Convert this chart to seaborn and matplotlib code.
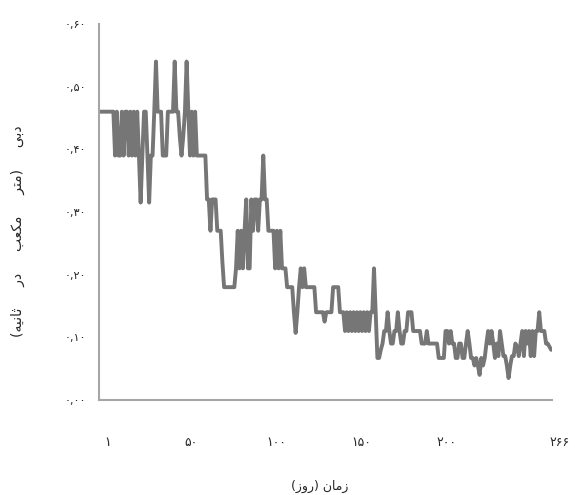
import numpy as np
import pandas as pd
import matplotlib
matplotlib.use("Agg")
import matplotlib.pyplot as plt
import matplotlib.transforms as mtransforms
import seaborn as sns

# daily discharge (m3/s)
discharge = [
    0.46, 0.46, 0.46, 0.46, 0.46, 0.46, 0.46, 0.46, 0.46,
    0.39, 0.46, 0.39, 0.39, 0.46, 0.39, 0.46, 0.46, 0.39, 0.46, 0.39, 0.46, 0.39, 0.46, 0.39,
    0.315, 0.39, 0.46, 0.46, 0.39, 0.315, 0.39, 0.39, 0.46, 0.54,
    0.46, 0.46, 0.46, 0.39, 0.39, 0.39, 0.46, 0.46, 0.46, 0.46,
    0.54, 0.46, 0.46, 0.42, 0.39, 0.42, 0.46, 0.54, 0.46, 0.39,
    0.46, 0.39, 0.46, 0.39, 0.39, 0.39, 0.39, 0.39, 0.39, 0.32,
    0.32, 0.27, 0.32, 0.32, 0.32, 0.27, 0.27, 0.27, 0.22, 0.18,
    0.18, 0.18, 0.18, 0.18, 0.18, 0.18, 0.21, 0.27, 0.21, 0.27,
    0.21, 0.27, 0.32, 0.21, 0.21, 0.32, 0.27, 0.32, 0.32, 0.27,
    0.32, 0.32, 0.39, 0.32, 0.32, 0.27, 0.27, 0.27, 0.27, 0.21,
    0.27, 0.21, 0.27, 0.21, 0.21, 0.21, 0.18, 0.18, 0.18, 0.18,
    0.14, 0.107, 0.14, 0.18, 0.21, 0.18, 0.21, 0.18, 0.18, 0.18,
    0.18, 0.18, 0.18, 0.14, 0.14, 0.14, 0.14, 0.14, 0.125, 0.14,
    0.14, 0.14, 0.14, 0.18, 0.18, 0.18, 0.18, 0.14, 0.14, 0.14,
    0.11, 0.14, 0.11, 0.14, 0.11, 0.14, 0.11, 0.14, 0.11, 0.14,
    0.11, 0.14, 0.11, 0.14, 0.11, 0.14, 0.14, 0.21, 0.14, 0.067,
    0.067, 0.08, 0.09, 0.11, 0.11, 0.14, 0.11, 0.09, 0.09, 0.11,
    0.11, 0.14, 0.11, 0.09, 0.09, 0.11, 0.11, 0.14, 0.14, 0.14,
    0.11, 0.11, 0.11, 0.11, 0.11, 0.09, 0.09, 0.09, 0.11, 0.09,
    0.09, 0.09, 0.09, 0.09, 0.09, 0.067, 0.067, 0.067, 0.067, 0.11,
    0.11, 0.09, 0.11, 0.09, 0.09, 0.067, 0.067, 0.09, 0.09, 0.067,
    0.067, 0.09, 0.11, 0.09, 0.067, 0.067, 0.055, 0.067, 0.055, 0.04,
    0.067, 0.055, 0.067, 0.09, 0.11, 0.09, 0.11, 0.09, 0.067, 0.09,
    0.07, 0.11, 0.09, 0.07, 0.07, 0.055, 0.035, 0.055, 0.07, 0.07,
    0.09, 0.085, 0.07, 0.09, 0.11, 0.07, 0.11, 0.09, 0.11, 0.07,
    0.11, 0.07, 0.11, 0.11, 0.14, 0.11, 0.11, 0.11, 0.09, 0.09,
    0.085, 0.08,
]
days = np.arange(1, len(discharge) + 1)

x_ticks = [1, 50, 100, 150, 200, 266]
x_tick_labels = ["۱", "۵۰", "۱۰۰", "۱۵۰", "۲۰۰", "۲۶۶"]
y_ticks = [0.0, 0.1, 0.2, 0.3, 0.4, 0.5, 0.6]
y_tick_labels = ["۰,۰۰", "۰,۱۰", "۰,۲۰", "۰,۳۰", "۰,۴۰", "۰,۵۰", "۰,۶۰"]
x_title = "زمان (روز)"
y_title = "دبی (متر مکعب در ثانیه)"

# minimal Persian shaping (matplotlib has no RTL / joining support)
FORMS = {
    "ا": ("\uFE8D", "\uFE8E", None, None),
    "ب": ("\uFE8F", "\uFE90", "\uFE91", "\uFE92"),
    "ت": ("\uFE95", "\uFE96", "\uFE97", "\uFE98"),
    "ث": ("\uFE99", "\uFE9A", "\uFE9B", "\uFE9C"),
    "د": ("\uFEA9", "\uFEAA", None, None),
    "ر": ("\uFEAD", "\uFEAE", None, None),
    "ز": ("\uFEAF", "\uFEB0", None, None),
    "ع": ("\uFEC9", "\uFECA", "\uFECB", "\uFECC"),
    "م": ("\uFEE1", "\uFEE2", "\uFEE3", "\uFEE4"),
    "ن": ("\uFEE5", "\uFEE6", "\uFEE7", "\uFEE8"),
    "ه": ("\uFEE9", "\uFEEA", "\uFEEB", "\uFEEC"),
    "و": ("\uFEED", "\uFEEE", None, None),
    "ک": ("\uFB8E", "\uFB8F", "\uFB90", "\uFB91"),
    "ی": ("\uFBFC", "\uFBFD", "\uFBFE", "\uFBFF"),
}


def shape(text):
    out = []
    for i, ch in enumerate(text):
        if ch not in FORMS:
            out.append(ch)
            continue
        iso, fin, ini, med = FORMS[ch]
        prev = text[i - 1] if i > 0 else ""
        nxt = text[i + 1] if i + 1 < len(text) else ""
        join_prev = prev in FORMS and FORMS[prev][2] is not None
        join_next = ini is not None and nxt in FORMS
        if join_prev and join_next:
            out.append(med)
        elif join_prev:
            out.append(fin)
        elif join_next:
            out.append(ini)
        else:
            out.append(iso)
    mirror = {"(": ")", ")": "("}
    return "".join(mirror.get(c, c) for c in reversed(out))


sns.set_style("white")
plt.rcParams["font.family"] = ["DejaVu Sans"]

df = pd.DataFrame({"day": days, "q": discharge})

fig = plt.figure(figsize=(5.75, 4.95), dpi=100)
ax = fig.add_axes([0.172, 0.192, 0.788, 0.7596])

sns.lineplot(data=df, x="day", y="q", ax=ax, color="#767676", linewidth=2.8)

ax.set_xlim(0.5, 266.5)
ax.set_ylim(0, 0.6)
ax.set_xticks(x_ticks)
ax.set_xticklabels(x_tick_labels, fontsize=9)
ax.set_yticks(y_ticks)
ax.set_yticklabels(y_tick_labels, fontsize=8)

for side in ["top", "right"]:
    ax.spines[side].set_visible(False)
for side in ["left", "bottom"]:
    ax.spines[side].set_color("#a6a6a6")
    ax.spines[side].set_linewidth(1.5)

ax.tick_params(axis="y", direction="out", length=3, width=1.2, color="#a6a6a6", pad=6)
ax.tick_params(axis="x", length=0, pad=26)
shift = mtransforms.ScaledTranslation(8 / 100, 0, fig.dpi_scale_trans)
for lbl in ax.get_xticklabels():
    lbl.set_transform(lbl.get_transform() + shift)

ax.set_xlabel(shape(x_title), fontsize=9)
# the original spreads the words of the y title widely
ax.set_ylabel(shape(y_title).replace(" ", "     "), fontsize=10)
ax.xaxis.set_label_coords(0.488, -0.231)
ax.yaxis.set_label_coords(-0.179, 0.45)
ax.xaxis.label.set_va("center")
ax.yaxis.label.set_va("center")

fig.savefig("out.png", dpi=100)
